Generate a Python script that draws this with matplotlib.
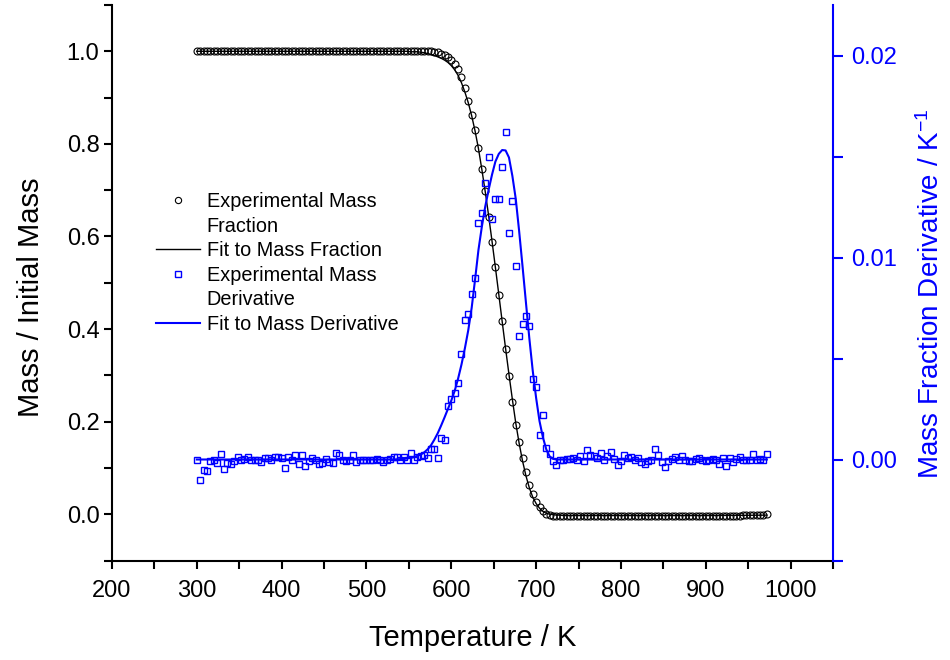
import matplotlib
matplotlib.use("Agg")
import matplotlib.pyplot as plt
from matplotlib.lines import Line2D
from matplotlib.ticker import MultipleLocator

plt.rcParams['font.family'] = ['Liberation Sans', 'DejaVu Sans']
plt.rcParams['mathtext.fontset'] = 'custom'
plt.rcParams['mathtext.rm'] = 'Liberation Sans'
plt.rcParams['mathtext.it'] = 'Liberation Sans:italic'

# Measured temperatures (K)
temperature = [
    300, 304, 308, 312, 316, 320, 324, 328, 332, 336, 340, 344,
    348, 352, 356, 360, 364, 368, 372, 376, 380, 384, 388, 392,
    396, 400, 404, 408, 412, 416, 420, 424, 428, 432, 436, 440,
    444, 448, 452, 456, 460, 464, 468, 472, 476, 480, 484, 488,
    492, 496, 500, 504, 508, 512, 516, 520, 524, 528, 532, 536,
    540, 544, 548, 552, 556, 560, 564, 568, 572, 576, 580, 584,
    588, 592, 596, 600, 604, 608, 612, 616, 620, 624, 628, 632,
    636, 640, 644, 648, 652, 656, 660, 664, 668, 672, 676, 680,
    684, 688, 692, 696, 700, 704, 708, 712, 716, 720, 724, 728,
    732, 736, 740, 744, 748, 752, 756, 760, 764, 768, 772, 776,
    780, 784, 788, 792, 796, 800, 804, 808, 812, 816, 820, 824,
    828, 832, 836, 840, 844, 848, 852, 856, 860, 864, 868, 872,
    876, 880, 884, 888, 892, 896, 900, 904, 908, 912, 916, 920,
    924, 928, 932, 936, 940, 944, 948, 952, 956, 960, 964, 968,
    972,
]

# Experimental mass fraction (mass / initial mass)
mass_fraction = [
    1.0, 1.0, 1.0, 1.0, 1.0, 1.0, 1.0, 1.0, 1.0, 1.0, 1.0, 1.0,
    1.0, 1.0, 1.0, 1.0, 1.0, 1.0, 1.0, 1.0, 1.0, 1.0, 1.0, 1.0,
    1.0, 1.0, 1.0, 1.0, 1.0, 1.0, 1.0, 1.0, 1.0, 1.0, 1.0, 1.0,
    1.0, 1.0, 1.0, 1.0, 1.0, 1.0, 1.0, 1.0, 1.0, 1.0, 1.0, 1.0,
    1.0, 1.0, 1.0, 1.0, 1.0, 1.0, 1.0, 1.0, 1.0, 1.0, 1.0, 1.0,
    1.0, 1.0, 1.0, 1.0, 1.0, 1.0, 1.0, 1.0, 1.0, 1.0, 0.999, 0.998,
    0.995, 0.991, 0.987, 0.981, 0.973, 0.962, 0.944, 0.920, 0.893, 0.862, 0.830, 0.792,
    0.745, 0.698, 0.643, 0.589, 0.535, 0.473, 0.417, 0.357, 0.298, 0.242, 0.193, 0.155,
    0.121, 0.091, 0.064, 0.044, 0.027, 0.015, 0.007, 0.001, -0.002, -0.003, -0.003, -0.003,
    -0.003, -0.003, -0.003, -0.004, -0.003, -0.003, -0.003, -0.004, -0.003, -0.003, -0.004, -0.003,
    -0.003, -0.004, -0.004, -0.003, -0.004, -0.004, -0.004, -0.003, -0.004, -0.004, -0.004, -0.004,
    -0.004, -0.004, -0.004, -0.004, -0.004, -0.004, -0.004, -0.004, -0.003, -0.004, -0.004, -0.003,
    -0.003, -0.003, -0.004, -0.003, -0.003, -0.003, -0.003, -0.003, -0.003, -0.003, -0.003, -0.003,
    -0.003, -0.003, -0.003, -0.003, -0.003, -0.002, -0.002, -0.002, -0.002, -0.001, -0.001, -0.001,
    0.000,
]

# Experimental mass fraction derivative (1/K)
mass_derivative = [
    0.00000, -0.00102, -0.00050, -0.00056, -0.00007, -0.00003, -0.00017, 0.00026, -0.00045, -0.00017, -0.00020, -0.00008,
    0.00010, 0.00000, 0.00003, 0.00010, 0.00000, -0.00003, 0.00000, -0.00012, 0.00005, 0.00005, 0.00000, 0.00010,
    0.00013, 0.00005, -0.00040, 0.00010, -0.00003, 0.00021, -0.00023, 0.00021, -0.00033, -0.00007, 0.00005, -0.00003,
    -0.00023, -0.00017, 0.00003, -0.00012, -0.00017, 0.00033, 0.00021, 0.00000, -0.00007, 0.00000, 0.00021, -0.00012,
    -0.00003, -0.00003, 0.00000, -0.00003, 0.00000, 0.00003, 0.00000, -0.00012, 0.00000, 0.00003, 0.00010, 0.00013,
    -0.00003, 0.00013, -0.00003, 0.00030, 0.00000, 0.00010, 0.00016, 0.00021, 0.00005, 0.00050, 0.00054, 0.00007,
    0.00104, 0.00097, 0.00267, 0.00300, 0.00330, 0.00380, 0.00520, 0.00690, 0.00720, 0.00820, 0.00900, 0.01170,
    0.01220, 0.01370, 0.01500, 0.01190, 0.01290, 0.01290, 0.01450, 0.01620, 0.01120, 0.01280, 0.00960, 0.00610,
    0.00670, 0.00710, 0.00660, 0.00400, 0.00360, 0.00120, 0.00220, 0.00058, 0.00028, -0.00005, -0.00025, -0.00002,
    -0.00002, 0.00003, 0.00003, 0.00008, -0.00002, 0.00015, -0.00008, 0.00048, 0.00020, 0.00015, 0.00008, 0.00031,
    -0.00002, 0.00015, 0.00036, 0.00003, -0.00025, -0.00005, 0.00020, 0.00008, 0.00012, -0.00002, 0.00008, -0.00013,
    -0.00021, -0.00005, -0.00002, 0.00053, 0.00020, -0.00010, -0.00035, -0.00008, 0.00003, 0.00012, -0.00002, 0.00015,
    -0.00002, -0.00008, -0.00005, 0.00003, 0.00008, -0.00002, -0.00005, -0.00002, 0.00003, -0.00002, -0.00021, 0.00008,
    -0.00030, 0.00008, -0.00013, 0.00003, 0.00012, -0.00002, -0.00002, -0.00002, 0.00028, 0.00000, 0.00003, 0.00000,
    0.00028,
]

# Fit curves
fit_temperature = [
    300, 400, 500,
    520, 524, 528, 532, 536, 540, 544, 548, 552, 556, 560, 564,
    568, 572, 576, 580, 584, 588, 592, 596, 600, 604, 608, 612,
    616, 620, 624, 628, 632, 636, 640, 644, 648, 652, 656, 660,
    664, 668, 672, 676, 680, 684, 688, 692, 696, 700, 704, 708,
    712, 716, 720, 724, 728, 732, 736, 740,
    800, 900, 972,
]

mass_fit = [
    1.0, 1.0, 1.0,
    1.0, 1.0, 1.0, 1.0, 1.0, 1.0, 1.0, 1.0, 0.999, 0.999, 0.999, 0.998,
    0.997, 0.995, 0.993, 0.991, 0.988, 0.985, 0.981, 0.976, 0.969, 0.960, 0.948, 0.932,
    0.912, 0.889, 0.861, 0.828, 0.790, 0.745, 0.697, 0.645, 0.590, 0.533, 0.475, 0.416,
    0.358, 0.302, 0.248, 0.197, 0.153, 0.115, 0.083, 0.057, 0.037, 0.023, 0.013, 0.006,
    0.002, 0.000, -0.001, -0.002, -0.002, -0.003, -0.003, -0.003,
    -0.003, -0.003, -0.002,
]

derivative_fit = [
    0.0, 0.0, 0.0,
    0.0, 0.0, 0.0, 0.0, 0.00001, 0.00002, 0.00003, 0.00005, 0.00008, 0.00012, 0.00018, 0.00025,
    0.00035, 0.00050, 0.00070, 0.00098, 0.00130, 0.00168, 0.00208, 0.00250, 0.00292, 0.00340, 0.00400, 0.00470,
    0.00550, 0.00640, 0.00750, 0.00890, 0.01037, 0.01152, 0.01252, 0.01335, 0.01410, 0.01475, 0.01513, 0.01532,
    0.01530, 0.01495, 0.01404, 0.01290, 0.01130, 0.00956, 0.00777, 0.00600, 0.00440, 0.00305, 0.00190, 0.00110,
    0.00050, 0.00015, 0.00003, 0.0, 0.0, 0.0, 0.0, 0.0,
    0.0, 0.0, 0.0,
]

x_ticks = [200, 300, 400, 500, 600, 700, 800, 900, 1000]
left_ticks = [0.0, 0.2, 0.4, 0.6, 0.8, 1.0]
left_tick_labels = ['0.0', '0.2', '0.4', '0.6', '0.8', '1.0']
right_ticks = [0.00, 0.01, 0.02]
right_tick_labels = ['0.00', '0.01', '0.02']

blue = '#0000ff'

fig = plt.figure(figsize=(9.5, 6.6), dpi=100)
ax = fig.add_axes([112 / 950, 99.5 / 660, 721 / 950, 555.5 / 660])
ax2 = ax.twinx()

# Mass fraction (left axis)
ax.plot(temperature, mass_fraction, ls='none', marker='o', mfc='none', mec='black',
        ms=5, mew=0.8, zorder=3)
ax.plot(fit_temperature, mass_fit, color='black', lw=1.0, zorder=2)

# Derivative (right axis)
ax2.plot(temperature, mass_derivative, ls='none', marker='s', mfc='none', mec=blue,
         ms=5, mew=1.0)
ax2.plot(fit_temperature, derivative_fit, color=blue, lw=1.5)

ax.set_xlim(200, 1050)
ax.set_ylim(-0.1, 1.1)
ax2.set_ylim(-0.005, 0.0225)

ax.set_xticks(x_ticks)
ax.xaxis.set_minor_locator(MultipleLocator(50))
ax.set_yticks(left_ticks)
ax.set_yticklabels(left_tick_labels)
ax.yaxis.set_minor_locator(MultipleLocator(0.1))
ax2.set_yticks(right_ticks)
ax2.set_yticklabels(right_tick_labels)
ax2.yaxis.set_minor_locator(MultipleLocator(0.005))

for a in (ax, ax2):
    a.spines['top'].set_visible(False)
ax.spines['right'].set_visible(False)
ax2.spines['left'].set_visible(False)
ax2.spines['bottom'].set_visible(False)
ax.spines['left'].set_linewidth(1.5)
ax.spines['bottom'].set_linewidth(1.5)
ax2.spines['right'].set_linewidth(1.5)
ax2.spines['right'].set_color(blue)

ax.tick_params(axis='both', which='both', direction='out', length=6, width=1.5,
               labelsize=17, pad=3)
ax.tick_params(axis='x', pad=8)
ax2.tick_params(axis='y', which='both', direction='out', length=7, width=1.5,
                labelsize=17, pad=6, colors=blue)

ax.set_xlabel('Temperature / K', fontsize=21)
ax.xaxis.set_label_coords(0.5, -0.114)
ax.set_ylabel('Mass / Initial Mass', fontsize=21)
ax.yaxis.set_label_coords(-0.093, 0.474)
ax2.set_ylabel('Mass Fraction Derivative / K$^{-1}$', fontsize=20, color=blue)
ax2.yaxis.set_label_coords(1.1165, 0.48)

# Legend: wrapped labels are split into a second entry with no handle
h_mass = Line2D([], [], ls='none', marker='o', mfc='none', mec='black', ms=4.5, mew=0.8)
h_mass_fit = Line2D([], [], color='black', lw=1.0)
h_deriv = Line2D([], [], ls='none', marker='s', mfc='none', mec=blue, ms=4.5, mew=1.0)
h_deriv_fit = Line2D([], [], color=blue, lw=1.5)
h_blank = Line2D([], [], ls='none')
handles = [h_mass, h_blank, h_mass_fit, h_deriv, h_blank, h_deriv_fit]
labels = ['Experimental Mass', 'Fraction', 'Fit to Mass Fraction',
          'Experimental Mass', 'Derivative', 'Fit to Mass Derivative']
ax2.legend(handles, labels, loc='upper left', bbox_to_anchor=(156 / 950, 1 - 192 / 660),
           bbox_transform=fig.transFigure, frameon=False, fontsize=14.3,
           handlelength=2.2, handletextpad=0.35, labelspacing=0.28,
           borderpad=0, borderaxespad=0)

fig.savefig('out.png', dpi=100)
